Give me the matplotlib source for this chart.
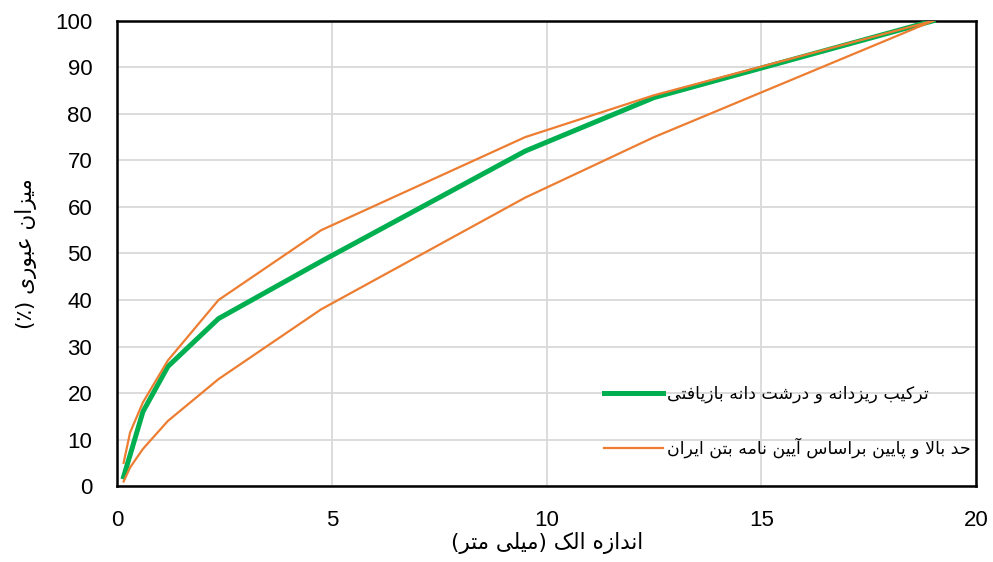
"""Grading curve: recycled fine + coarse aggregate vs. Iranian concrete code limits."""
import matplotlib
matplotlib.use("Agg")
import matplotlib.pyplot as plt

plt.rcParams.update({
    "font.family": ["Liberation Sans", "DejaVu Sans"], "font.size": 16,
    "axes.linewidth": 1.8, "axes.edgecolor": "black",
})

# ---- data ----
sieve_mix = [0.15, 0.6, 1.18, 2.36, 4.75, 9.5, 12.5, 19]
pass_mix = [2, 16, 25.7, 36, 48.3, 72, 83.5, 100]
sieve_lim = [0.15, 0.3, 0.6, 1.18, 2.36, 4.75, 9.5, 12.5, 19]
upper_lim = [5, 11.5, 18, 27, 40, 55, 75, 84, 100]
lower_lim = [1, 4, 8, 14, 23, 38, 62, 75, 100]

lbl_mix = "ترکیب ریزدانه و درشت دانه بازیافتی"
lbl_lim = "حد بالا و پایین براساس آیین نامه بتن ایران"
xlab = "اندازه الک (میلی متر)"
ylab = "میزان عبوری (٪)"

# ---- minimal Persian shaping (matplotlib has no bidi / joining) ----
FORMS = {  # isol, fina, init, medi
    "ا": ("\uFE8D", "\uFE8E"), "آ": ("\uFE81", "\uFE82"),
    "د": ("\uFEA9", "\uFEAA"), "ر": ("\uFEAD", "\uFEAE"),
    "ز": ("\uFEAF", "\uFEB0"), "و": ("\uFEED", "\uFEEE"),
    "ب": ("\uFE8F", "\uFE90", "\uFE91", "\uFE92"),
    "پ": ("\uFB56", "\uFB57", "\uFB58", "\uFB59"),
    "ت": ("\uFE95", "\uFE96", "\uFE97", "\uFE98"),
    "ح": ("\uFEA1", "\uFEA2", "\uFEA3", "\uFEA4"),
    "س": ("\uFEB1", "\uFEB2", "\uFEB3", "\uFEB4"),
    "ش": ("\uFEB5", "\uFEB6", "\uFEB7", "\uFEB8"),
    "ع": ("\uFEC9", "\uFECA", "\uFECB", "\uFECC"),
    "ف": ("\uFED1", "\uFED2", "\uFED3", "\uFED4"),
    "ک": ("\uFB8E", "\uFB8F", "\uFB90", "\uFB91"),
    "ل": ("\uFEDD", "\uFEDE", "\uFEDF", "\uFEE0"),
    "م": ("\uFEE1", "\uFEE2", "\uFEE3", "\uFEE4"),
    "ن": ("\uFEE5", "\uFEE6", "\uFEE7", "\uFEE8"),
    "ه": ("\uFEE9", "\uFEEA", "\uFEEB", "\uFEEC"),
    "ی": ("\uFBFC", "\uFBFD", "\uFBFE", "\uFBFF"),
}
LAMALEF = {"ا": ("\uFEFB", "\uFEFC"), "آ": ("\uFEF5", "\uFEF6")}


def fa(s):
    out, i = [], 0
    while i < len(s):
        c = s[i]
        if c not in FORMS:
            out.append(c); i += 1; continue
        prev = s[i - 1] if i > 0 else ""
        joins_prev = prev in FORMS and len(FORMS[prev]) == 4
        nxt = s[i + 1] if i + 1 < len(s) else ""
        if c == "ل" and nxt in LAMALEF:
            out.append(LAMALEF[nxt][1 if joins_prev else 0]); i += 2; continue
        f = FORMS[c]
        joins_next = len(f) == 4 and nxt in FORMS
        if joins_prev and joins_next:
            out.append(f[3])
        elif joins_prev:
            out.append(f[1])
        elif joins_next:
            out.append(f[2])
        else:
            out.append(f[0])
        i += 1
    vis = "".join(reversed(out))
    return vis.translate(str.maketrans("()", ")("))


FA = "DejaVu Sans"

fig, ax = plt.subplots(figsize=(9.93, 5.62), dpi=100)
fig.subplots_adjust(left=0.118, right=0.983, top=0.963, bottom=0.135)

ax.plot(sieve_mix, pass_mix, color="#00B050", lw=3.6, label=fa(lbl_mix), zorder=3)
ax.plot(sieve_lim, upper_lim, color="#ED7D31", lw=1.6, label=fa(lbl_lim), zorder=4)
ax.plot(sieve_lim, lower_lim, color="#ED7D31", lw=1.6, label="_nolegend_", zorder=4)

ax.set_xlim(0, 20); ax.set_ylim(0, 100)
ax.set_xticks(range(0, 21, 5)); ax.set_yticks(range(0, 101, 10))
ax.grid(True, color="#d9d9d9", lw=1.3)
ax.set_axisbelow(True)
ax.tick_params(length=0, pad=17)
ax.tick_params(axis="y", pad=18)

ax.set_xlabel(fa(xlab), family=FA, fontsize=15.5, labelpad=1)
ax.set_ylabel(fa(ylab), family=FA, fontsize=15.5, labelpad=13)

leg = ax.legend(loc="lower right", bbox_to_anchor=(1.012, 0.026), frameon=False,
                prop={"family": FA, "size": 12.5}, handlelength=3.4,
                handletextpad=0.25, labelspacing=2.0)

fig.savefig("out.png", dpi=100)
